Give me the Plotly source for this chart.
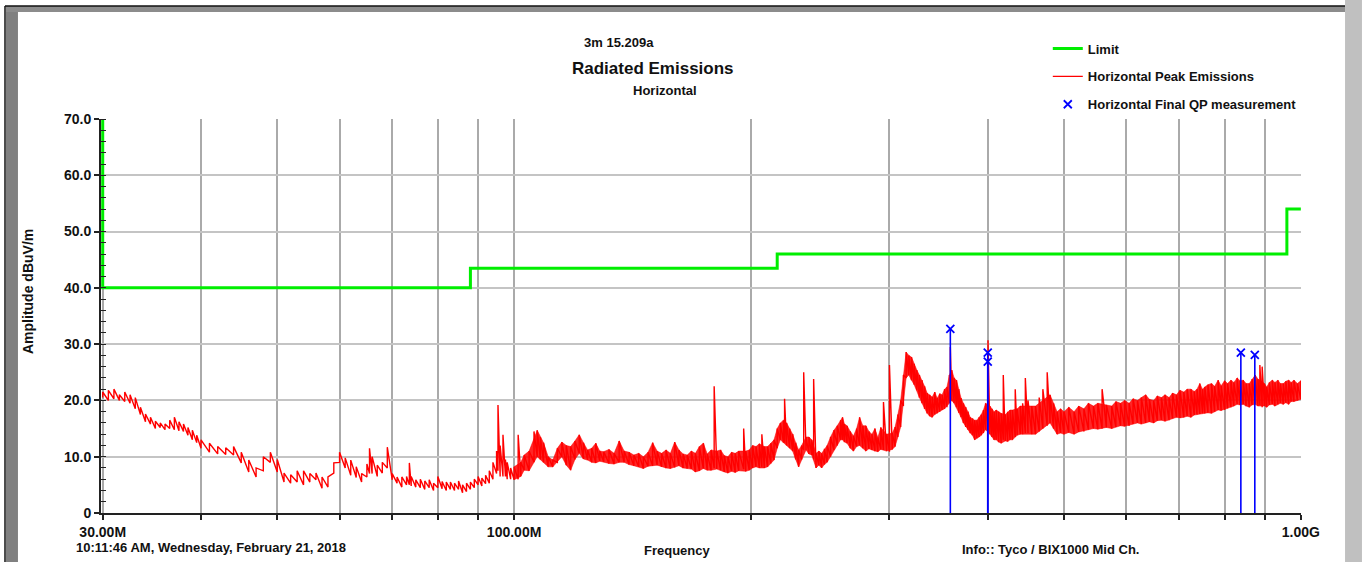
import math
import plotly.graph_objects as go

# ---------------- data ----------------
limit_freq_mhz = [30, 30, 88, 88, 216, 216, 960, 960, 1000]
limit_dbuv = [70, 40, 40, 43.5, 43.5, 46, 46, 54, 54]

# Horizontal peak emissions: frequency, lower and upper edge of the noisy trace
peak_rows = [
    (30, 20.5, 21.5), (30.5, 20.0, 21.8), (31, 20.3, 22.0), (31.5, 20.0, 21.0), (32, 19.8, 21.5),
    (32.5, 19.5, 21.0), (33, 18.5, 20.5), (33.5, 17.5, 18.8), (34, 16.2, 17.6), (34.5, 15.8, 17.0),
    (35, 15.0, 16.3), (35.5, 15.2, 16.0), (36, 14.8, 15.8), (36.5, 15.0, 16.5), (37, 14.8, 17.0),
    (37.5, 14.6, 16.2), (38, 14.5, 15.8), (38.5, 13.8, 15.2), (39, 13.0, 14.7), (39.5, 12.5, 13.8),
    (40, 11.5, 13.0), (41, 10.8, 12.4), (42, 10.5, 11.8), (43, 10.4, 11.6), (44, 10.3, 11.8),
    (45, 8.9, 10.8), (46, 7.3, 9.4), (47, 6.4, 8.0), (48, 7.5, 10.0), (49, 9.0, 10.8),
    (50, 7.3, 9.5), (51, 5.5, 7.1), (52, 5.3, 6.8), (53, 5.5, 7.5), (54, 5.0, 7.5),
    (55, 5.5, 7.0), (56, 5.9, 7.1), (57, 4.4, 6.4), (58, 4.6, 6.4), (59, 7.1, 8.9),
    (60, 9.0, 10.8), (61, 8.0, 9.8), (62, 6.7, 9.4), (63, 6.3, 8.2), (64, 5.5, 7.0),
    (65, 6.4, 8.7), (65.5, 7.0, 11.5), (66, 7.0, 10.0), (67, 6.5, 8.5), (68, 7.1, 9.0),
    (69, 8.0, 11.7), (70, 5.9, 7.0), (71, 5.3, 6.4), (72, 4.6, 6.4), (73, 5.0, 6.5),
    (73.6, 5.0, 8.9), (74, 4.8, 6.5), (75, 4.6, 5.9), (76, 4.5, 6.0), (77, 4.2, 5.7),
    (78, 4.5, 5.9), (79, 4.0, 5.3), (80, 4.5, 6.5), (81, 4.3, 5.6), (82, 4.0, 5.5),
    (83, 4.2, 5.5), (84, 4.0, 5.3), (85, 4.2, 5.7), (86, 3.6, 5.0), (87, 3.8, 5.3),
    (88, 4.2, 5.5), (89, 4.5, 6.0), (90, 5.0, 6.5), (91, 4.8, 6.2), (92, 5.2, 6.7),
    (93, 5.3, 7.5), (94, 6.0, 9.0), (95, 7.0, 11.0), (95.4, 7.5, 19.2), (96, 6.5, 12.0),
    (96.8, 6.5, 13.9), (97.5, 6.5, 9.5), (98, 6.0, 9.0), (99, 6.0, 8.0), (100, 5.9, 8.2),
    (101.2, 6.0, 13.9), (102, 6.5, 9.0), (103, 7.6, 10.3), (104.5, 7.5, 11.0), (106, 9.0, 14.5),
    (107, 10.0, 14.7), (108, 9.5, 13.5), (109, 9.0, 12.5), (110.5, 8.2, 10.0), (112, 8.2, 9.4),
    (113.5, 9.0, 11.5), (115, 10.0, 12.6), (116.5, 8.5, 12.0), (118, 7.6, 11.8), (119.5, 9.5, 12.8),
    (121, 10.6, 13.9), (122.5, 9.6, 12.5), (124, 9.4, 11.2), (125.5, 9.0, 11.5), (127, 8.9, 12.4),
    (128.5, 9.2, 11.0), (130, 9.1, 10.9), (132, 8.8, 11.3), (134, 8.7, 10.6), (136, 9.0, 12.8),
    (138, 9.0, 11.0), (140, 8.6, 10.8), (142, 8.4, 10.3), (144, 8.2, 10.6), (146, 7.9, 10.0),
    (148, 8.3, 10.8), (150, 8.4, 12.5), (152, 8.5, 11.0), (154, 8.2, 10.6), (156, 8.0, 11.2),
    (158, 7.9, 10.6), (160, 8.1, 12.6), (162, 8.4, 11.2), (164, 8.0, 10.5), (166, 7.9, 10.3),
    (168, 7.8, 11.0), (170, 7.3, 10.6), (172, 7.5, 11.8), (174, 7.9, 12.4), (176, 7.6, 10.5),
    (178, 7.6, 11.2), (179.6, 8.0, 22.5), (181, 7.8, 11.0), (183, 7.6, 11.2), (185, 7.3, 10.2),
    (187, 7.1, 10.0), (189, 7.4, 10.8), (191, 7.2, 10.6), (193, 7.5, 11.0), (195.8, 7.8, 15.0),
    (197, 7.4, 11.0), (199, 7.6, 11.2), (201, 8.0, 12.0), (203, 8.2, 11.8), (205, 8.0, 12.3),
    (206.5, 8.2, 14.0), (208, 8.0, 11.8), (210, 8.2, 11.8), (212, 8.8, 12.4), (214, 9.4, 13.0),
    (216, 11.5, 15.0), (218, 13.0, 16.0), (220, 12.5, 16.5), (220.7, 12.5, 20.3), (222, 12.0, 16.0),
    (224, 11.5, 15.0), (226, 11.0, 14.0), (228, 9.5, 12.5), (230, 8.2, 11.2), (232, 9.5, 12.0),
    (233.4, 11.2, 25.0), (235, 11.2, 13.5), (237, 10.5, 13.5), (239, 10.3, 13.0), (240.3, 9.5, 23.8),
    (242, 8.0, 10.6), (244, 8.5, 11.0), (246, 8.0, 10.6), (248, 8.6, 11.4), (250, 9.0, 12.0),
    (252.5, 10.0, 13.5), (255, 11.2, 14.7), (257.5, 12.0, 15.5), (260, 13.0, 16.5), (261.5, 13.0, 17.0),
    (263, 12.6, 15.8), (265, 12.4, 15.5), (267.5, 11.5, 14.5), (270, 11.0, 13.7), (272.5, 11.8, 15.0),
    (274.9, 12.0, 17.0), (277.5, 11.5, 15.5), (280, 11.0, 15.5), (282.5, 11.4, 14.5), (285, 11.2, 14.0),
    (287.5, 11.0, 15.0), (290, 10.9, 13.4), (292.5, 11.3, 15.2), (294.8, 11.2, 19.7), (297.5, 11.0, 14.0),
    (300, 10.9, 26.3), (302.5, 11.3, 14.2), (305, 11.8, 15.3), (307.5, 13.5, 17.5), (310, 15.3, 20.0),
    (312.5, 19.0, 24.5), (315, 24.0, 28.6), (317.5, 24.5, 28.0), (320, 23.6, 27.7), (322.5, 22.8, 26.5),
    (325, 21.8, 25.4), (327.5, 20.5, 24.5), (330, 19.5, 23.6), (332.5, 18.5, 22.5), (335, 17.7, 21.3),
    (337.5, 17.2, 21.0), (340, 17.0, 20.6), (342.5, 17.5, 21.5), (345, 17.7, 20.4), (347.5, 18.0, 21.2),
    (350, 18.3, 21.0), (352.5, 18.5, 22.0), (355, 18.8, 22.4), (357.5, 19.5, 24.5), (358.5, 20.0, 29.5),
    (360, 20.0, 25.4), (362.5, 19.5, 24.0), (365, 18.8, 23.6), (367.5, 17.8, 22.0), (370, 17.0, 20.4),
    (372.5, 16.0, 19.5), (375, 15.3, 18.8), (377.5, 14.8, 18.0), (380, 14.2, 17.0), (382.5, 13.8, 16.8),
    (385, 13.0, 16.5), (387.5, 13.3, 16.5), (390, 13.5, 17.0), (392.5, 13.8, 17.5), (395, 14.2, 18.3),
    (397.5, 14.8, 19.5), (400.3, 15.3, 30.7), (402.5, 14.0, 19.0), (405, 13.5, 18.5), (407.5, 13.0, 18.0),
    (410, 13.0, 18.3), (413, 12.6, 18.0), (416, 12.4, 17.7), (418.6, 13.0, 24.5), (421, 12.8, 17.5),
    (424, 12.7, 18.0), (427, 13.0, 18.3), (430, 13.0, 18.3), (433.5, 13.5, 22.0), (436, 13.8, 18.5),
    (440, 14.0, 19.0), (443, 14.0, 19.5), (446.5, 14.2, 24.0), (450, 14.2, 20.0), (455, 14.0, 19.0),
    (460, 14.0, 19.0), (465, 14.5, 20.5), (470, 15.0, 22.0), (476, 15.5, 25.0), (480, 16.0, 21.0),
    (485, 15.0, 19.5), (490, 14.0, 18.0), (495, 14.2, 18.5), (500, 14.0, 18.0), (507, 14.3, 18.8),
    (515, 14.0, 18.0), (522, 14.4, 19.0), (530, 14.5, 18.5), (537, 14.8, 19.5), (545, 15.0, 19.0),
    (552, 14.9, 19.5), (559, 15.0, 22.0), (566, 15.2, 19.2), (575, 15.0, 19.0), (582, 15.3, 19.8),
    (590, 15.5, 19.5), (597, 15.4, 20.0), (605, 15.5, 19.5), (612, 15.8, 20.3), (620, 16.0, 20.0),
    (627, 15.8, 20.5), (635, 16.0, 21.0), (642, 16.2, 20.2), (650, 16.0, 20.0), (657, 16.4, 20.8),
    (665, 16.5, 20.5), (672, 16.3, 21.0), (680, 16.5, 20.5), (687, 16.8, 21.3), (695, 17.0, 21.0),
    (702, 16.9, 21.8), (710, 17.0, 21.5), (717, 17.2, 22.0), (725, 17.0, 22.0), (732, 17.4, 21.6),
    (738, 17.5, 22.0), (744, 17.6, 23.0), (750, 17.7, 22.0), (755, 17.7, 22.4), (762, 17.8, 22.8),
    (770, 17.7, 23.0), (777, 18.0, 22.5), (785, 18.3, 23.6), (792, 18.2, 22.6), (800, 18.3, 23.5),
    (807, 18.6, 23.0), (815, 18.8, 23.6), (822, 19.0, 23.2), (830, 19.3, 24.0), (837, 19.2, 23.5),
    (845, 19.3, 23.6), (852, 19.0, 23.0), (860, 18.8, 23.0), (867, 19.2, 23.8), (875, 19.3, 24.5),
    (882, 19.0, 23.8), (887, 19.2, 26.3), (893, 18.8, 26.0), (899, 19.0, 23.0), (905, 18.8, 22.4),
    (912, 19.2, 23.2), (920, 19.3, 23.6), (927, 19.0, 23.2), (935, 19.3, 23.6), (942, 19.5, 23.0),
    (950, 19.3, 23.0), (957, 19.6, 23.4), (965, 19.3, 23.6), (972, 19.8, 23.2), (980, 19.8, 23.6),
    (990, 20.0, 23.0), (1000, 20.2, 23.5),
]
peak_freq_mhz = [r[0] for r in peak_rows]
peak_low = [r[1] for r in peak_rows]
peak_high = [r[2] for r in peak_rows]

qp_freq_mhz = [358.5, 400.0, 400.0, 839.0, 874.0]
qp_dbuv = [32.7, 28.5, 26.9, 28.5, 28.1]

x_tickvals = [30, 40, 50, 60, 70, 80, 90, 100, 200, 300, 400, 500, 600, 700, 800, 900, 1000]
x_ticktext = ["30.00M", "", "", "", "", "", "", "100.00M", "", "", "", "", "", "", "", "", "1.00G"]
y_tickvals = [0, 10, 20, 30, 40, 50, 60, 70]
y_ticktext = ["0", "10.0", "20.0", "30.0", "40.0", "50.0", "60.0", "70.0"]

# ---------------- build the trace paths ----------------
peak_x, peak_y = [], []
for f, lo, hi in zip(peak_freq_mhz, peak_low, peak_high):
    peak_x += [f, f]
    peak_y += [lo, hi]

# dense noise band (drawn solid above 100 MHz, isolated spikes stay thin lines)
BAND_START_MHZ = 100
SPIKE_SPAN_DB = 5.5
band_rows = [r for r in peak_rows if r[0] >= BAND_START_MHZ and (r[2] - r[1]) < SPIKE_SPAN_DB]
band_x = [r[0] for r in band_rows] + [r[0] for r in band_rows][::-1]
band_y = [r[2] for r in band_rows] + [r[1] for r in band_rows][::-1]

FONT = "Liberation Sans, Arial, sans-serif"
RED = "#ff0000"

fig = go.Figure()
fig.add_trace(go.Scatter(
    x=limit_freq_mhz, y=limit_dbuv, mode="lines", name="<b>Limit</b>",
    line=dict(color="#00ee00", width=3), legendgroup="a"))
fig.add_trace(go.Scatter(
    x=band_x, y=band_y, mode="lines", fill="toself", fillcolor="rgba(255,0,0,0.85)",
    line=dict(color=RED, width=0.5), showlegend=False, hoverinfo="skip", legendgroup="b"))
fig.add_trace(go.Scatter(
    x=peak_x, y=peak_y, mode="lines", name="<b>Horizontal Peak Emissions</b>",
    line=dict(color=RED, width=1.4), legendgroup="b"))
fig.add_trace(go.Scatter(
    x=qp_freq_mhz, y=qp_dbuv, mode="markers", name="<b>Horizontal Final QP measurement</b>",
    marker=dict(symbol="x-thin", size=8, color="#0000ff", line=dict(color="#0000ff", width=1.8)),
    error_y=dict(type="data", symmetric=False, array=[0] * len(qp_dbuv), arrayminus=qp_dbuv,
                 width=0, color="#0000ff", thickness=1.6),
    legendgroup="c"))

fig.update_xaxes(
    type="log", range=[math.log10(29.85), math.log10(1000.5)],
    tickvals=x_tickvals, ticktext=[f"<b>{t}</b>" if t else "" for t in x_ticktext],
    ticks="outside", ticklen=5, tickwidth=1.5,
    tickcolor="#222", showgrid=True, gridcolor="#aaaaaa", gridwidth=1.5,
    showline=True, linecolor="#222", linewidth=2, zeroline=False,
    tickfont=dict(family=FONT, size=14, color="#111"))
fig.update_yaxes(
    range=[0, 70], tickvals=y_tickvals, ticktext=[f"<b>{t}</b>" for t in y_ticktext],
    ticks="outside", ticklen=5,
    tickwidth=1.5, tickcolor="#222", showgrid=True, gridcolor="#c4c4c4", gridwidth=2,
    showline=True, linecolor="#222", linewidth=2, zeroline=False,
    minor=dict(dtick=2, ticks="inside", ticklen=5, tickcolor="#222", tickwidth=1.2, showgrid=False),
    tickfont=dict(family=FONT, size=14, color="#111"))

def ann(text, x, y, size=13, xanchor="center", angle=0):
    fig.add_annotation(text=f"<b>{text}</b>", x=x, y=y, xref="paper", yref="paper",
                       showarrow=False, xanchor=xanchor, yanchor="middle", textangle=angle,
                       font=dict(family=FONT, size=size, color="#111"))

ann("3m 15.209a", 0.4317, 1.1954, 13)
ann("Radiated Emissions", 0.46, 1.1294, 17)
ann("Horizontal", 0.47, 1.0736, 13)
ann("Amplitude dBuV/m", -0.0608, 0.561, 14, angle=-90)
ann("Frequency", 0.48, -0.0964, 13)
ann("10:11:46 AM, Wednesday, February 21, 2018", -0.0225, -0.0888, 13, xanchor="left")
ann("Info:: Tyco / BIX1000 Mid Ch.", 0.7158, -0.0914, 13, xanchor="left")

shapes = [
    dict(type="rect", xref="paper", yref="paper", x0=-0.0792, x1=-0.0692, y0=-0.13, y1=1.2843,
         fillcolor="#808080", line=dict(width=0)),
    dict(type="rect", xref="paper", yref="paper", x0=-0.0792, x1=1.0367, y0=1.2716, y1=1.2868,
         fillcolor="#8c8c8c", line=dict(width=0)),
    dict(type="line", xref="paper", yref="paper", x0=-0.0800, x1=1.0367, y0=1.2868, y1=1.2868,
         line=dict(color="#111", width=1.5)),
    dict(type="line", xref="paper", yref="paper", x0=-0.0800, x1=-0.0800, y0=-0.13, y1=1.2868,
         line=dict(color="#111", width=1.5)),
    dict(type="rect", xref="paper", yref="paper", x0=1.0367, x1=1.0508, y0=-0.13, y1=1.31,
         fillcolor="#c0c0c0", line=dict(width=0)),
]

fig.update_layout(
    width=1364, height=562, margin=dict(l=101, r=63, t=119, b=49),
    paper_bgcolor="white", plot_bgcolor="white", shapes=shapes,
    showlegend=True,
    legend=dict(x=0.789, y=1.217, xanchor="left", yanchor="top", bgcolor="rgba(0,0,0,0)",
                font=dict(family=FONT, size=13, color="#111"), itemwidth=30,
                tracegroupgap=8, traceorder="grouped"),
    font=dict(family=FONT),
)
fig.write_html("out.html", config={"displayModeBar": False},
               post_script="document.body.style.margin='0px';")
